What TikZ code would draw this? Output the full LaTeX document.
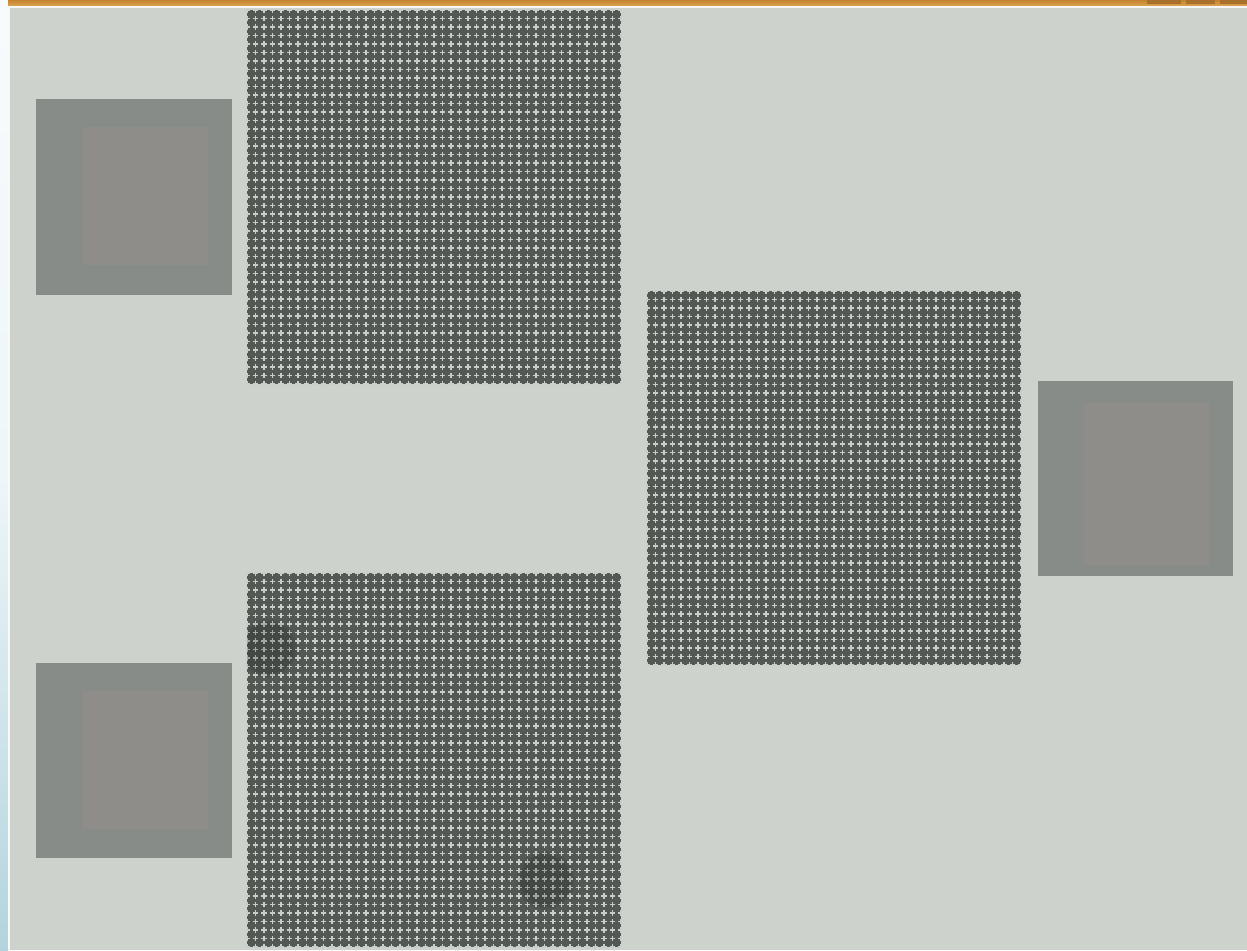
\documentclass[tikz,border=0pt]{standalone}
\usetikzlibrary{fadings}
\definecolor{bg}{HTML}{CDD2CD}
\definecolor{cell}{HTML}{545854}
\definecolor{gline}{HTML}{C9CEC9}
\definecolor{outerbox}{HTML}{888C88}
\definecolor{innerbox}{HTML}{8F8D89}
\definecolor{barA}{HTML}{C4842E}
\definecolor{barB}{HTML}{DCA352}
\definecolor{barD}{HTML}{A8702A}
\definecolor{stripTop}{HTML}{F7FBFC}
\definecolor{stripMid}{HTML}{EEF6F8}
\definecolor{stripBot}{HTML}{B3D4DE}
\tikzset{
  gridlinestyle/.style={gline, line width=1.9pt, dash pattern=on 5.3pt off 3.2pt, dash phase=2.65pt},
  outerstyle/.style={fill=outerbox},
  innerstyle/.style={fill=innerbox},
}
\newcommand{\crossgrid}[2]{%
  \fill[cell] (#1,#2) rectangle ++(374,374);
  \foreach \i in {0,...,44}{
    \draw[gridlinestyle] ({#1+\i*8.5},#2) -- ++(0,374);
    \draw[gridlinestyle] (#1,{#2+\i*8.5}) -- ++(374,0);
  }
}
\begin{document}
\begin{tikzpicture}[x=1pt,y=-1pt]
\useasboundingbox (0,0) rectangle (1247,950);
\fill[bg] (0,0) rectangle (1247,950);
% left strip
\shade[top color=stripTop, bottom color=stripBot, middle color=stripMid] (0,0) rectangle (8,950);
\fill[white!85!bg] (8,0) rectangle (9.5,950);
% top bar
\shade[top color=barA, bottom color=barB] (8,0) rectangle (1247,6);
\fill[barD] (1147,0) rectangle (1181,4.5);
\fill[barD] (1186,0) rectangle (1215,4.5);
\fill[barD] (1220,0) rectangle (1247,4.5);
\fill[white!80!bg] (8,6) rectangle (1247,8);
% grey squares
\fill[outerstyle] (36,99) rectangle (232,295);
\fill[innerstyle] (83,127) rectangle (208,265);
\fill[outerstyle] (36,663) rectangle (232,858);
\fill[innerstyle] (83,691) rectangle (208,829);
\fill[outerstyle] (1038,381) rectangle (1233,576);
\fill[innerstyle] (1084,403) rectangle (1209,565);
% grids
\crossgrid{247}{10}
\crossgrid{247}{573}
\crossgrid{647}{291}
% smudges
\begin{scope}
\clip (247,573) rectangle ++(374,374);
\fill[black, fill opacity=0.18, path fading=circle with fuzzy edge 20 percent] (268,648) circle (30);
\fill[black, fill opacity=0.18, path fading=circle with fuzzy edge 20 percent] (545,880) circle (30);
\end{scope}
\end{tikzpicture}
\end{document}
